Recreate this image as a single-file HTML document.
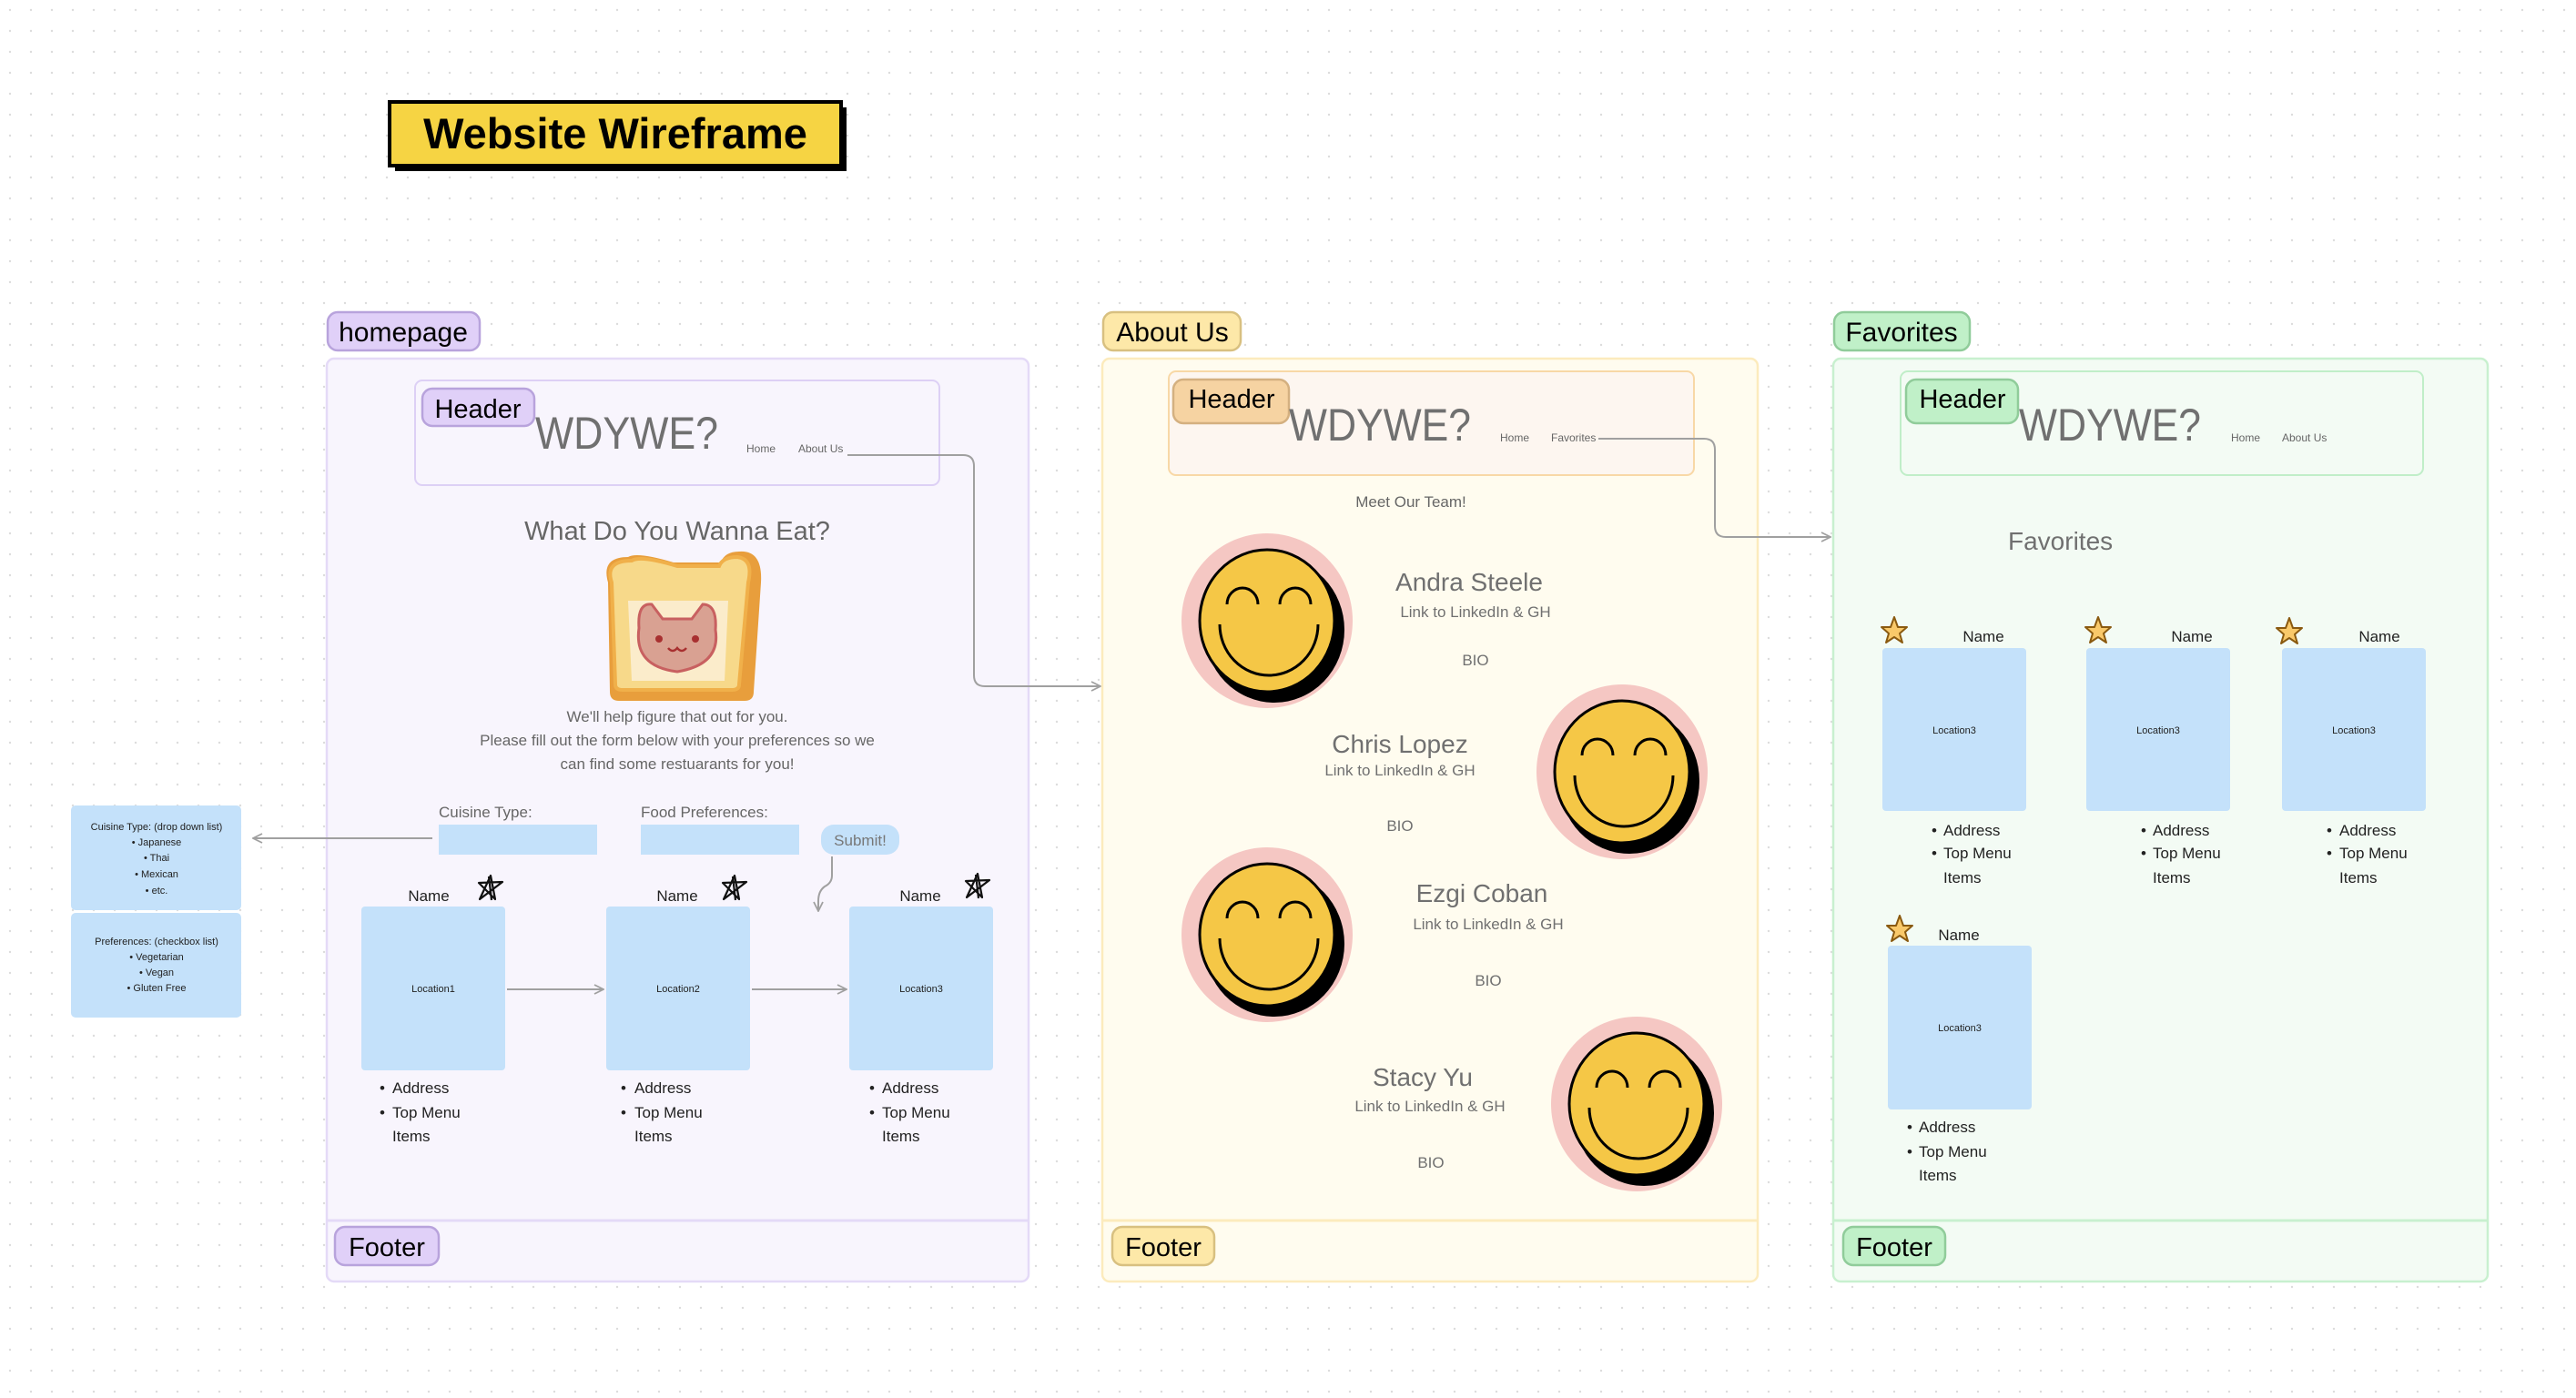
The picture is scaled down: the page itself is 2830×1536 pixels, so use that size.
<!DOCTYPE html>
<html><head><meta charset="utf-8"><style>
html,body{margin:0;padding:0;background:#fff;}
svg{display:block;font-family:"Liberation Sans",sans-serif;}
</style></head><body>
<svg width="2830" height="1536" viewBox="0 0 2830 1536" xmlns="http://www.w3.org/2000/svg">
<defs>
<pattern id="dots" x="0" y="0" width="23" height="23" patternUnits="userSpaceOnUse"><circle cx="11" cy="11" r="1.2" fill="#dcdcdc"/></pattern>
<marker id="ar" viewBox="0 0 12 12" refX="11" refY="6" markerWidth="12" markerHeight="12" markerUnits="userSpaceOnUse" orient="auto"><path d="M1,1 L11,6 L1,11" fill="none" stroke="#a0a0a0" stroke-width="1.8"/></marker>
<g id="smile">
<ellipse cx="0" cy="0" rx="94" ry="96" fill="#f5c7c3"/>
<ellipse cx="8" cy="10" rx="77" ry="80" fill="#000"/>
<ellipse cx="0" cy="0" rx="74" ry="78" fill="#f5c746" stroke="#000" stroke-width="3"/>
<path d="M-44,-18 A17,18 0 0 1 -10,-18" fill="none" stroke="#000" stroke-width="3"/>
<path d="M14,-18 A17,18 0 0 1 48,-18" fill="none" stroke="#000" stroke-width="3"/>
<path d="M-52,4 A54,56 0 0 0 56,4" fill="none" stroke="#000" stroke-width="3"/>
</g>
<g id="ostar"><path d="M0,-14 L4,-3 L14,-3 L6,4 L9,14 L0,8 L-9,14 L-6,4 L-14,-3 L-4,-3 Z" fill="#f9c96a" stroke="#8a5a10" stroke-width="2" stroke-linejoin="round"/></g>
<g id="hstar"><path d="M-12,13 L0,-13 L5,13 L-13,-5 L13,-6 Z M-2,-12 L1,14" fill="none" stroke="#111" stroke-width="2.2" stroke-linejoin="round"/></g>
</defs>
<rect width="2830" height="1536" fill="#fff"/>
<rect width="2830" height="1536" fill="url(#dots)"/>

<!-- Title -->
<rect x="434" y="118" width="496" height="70" fill="#000"/>
<rect x="428" y="112" width="496" height="70" fill="#f6d443" stroke="#000" stroke-width="4"/>
<text x="676" y="163" font-size="47" font-weight="bold" text-anchor="middle" fill="#000">Website Wireframe</text>

<!-- ===== HOMEPAGE ===== -->
<rect x="359" y="394" width="771" height="1014" rx="8" fill="#f8f5fd" stroke="#e4daf7" stroke-width="2.5"/>
<line x1="359" y1="1341" x2="1130" y2="1341" stroke="#e4daf7" stroke-width="3"/>
<rect x="360" y="343" width="167" height="42" rx="11" fill="#e0d0f8" stroke="#b8a3dc" stroke-width="2.5"/>
<text x="443" y="375" font-size="30" text-anchor="middle" fill="#000">homepage</text>
<rect x="456" y="418" width="576" height="115" rx="8" fill="#f8f5fd" stroke="#ddd0f5" stroke-width="2"/>
<rect x="464" y="427" width="123" height="41" rx="11" fill="#e0d0f8" stroke="#b8a3dc" stroke-width="2.5"/>
<text x="525" y="459" font-size="29" text-anchor="middle" fill="#000">Header</text>
<text x="588" y="493" font-size="50" fill="#707070" textLength="201" lengthAdjust="spacingAndGlyphs">WDYWE?</text>
<text x="820" y="497" font-size="12" fill="#666">Home</text>
<text x="877" y="497" font-size="12" fill="#666">About Us</text>
<path d="M931,500 H1058 Q1070,500 1070,512 V742 Q1070,754 1082,754 H1209" fill="none" stroke="#a0a0a0" stroke-width="2" marker-end="url(#ar)"/>
<text x="744" y="593" font-size="29" text-anchor="middle" fill="#666">What Do You Wanna Eat?</text>

<!-- toast cat -->
<g>
<path d="M668,640 Q660,612 690,612 Q700,606 740,618 L792,618 Q796,606 812,606 Q838,604 836,640 L828,760 Q828,770 818,770 L680,770 Q670,770 670,760 Z" fill="#e89e3c"/>
<path d="M672,640 Q664,616 694,616 Q704,610 744,622 L790,622 Q794,612 810,612 Q828,614 822,640 L812,752 Q812,758 804,758 L684,758 Q676,758 676,752 Z" fill="#f7d98a" stroke="#f0b04a" stroke-width="4"/>
<path d="M690,660 L800,660 L796,748 L694,748 Z" fill="#fbeccb"/>
<path d="M702,690 Q700,662 716,664 L728,680 L760,680 L772,664 Q788,664 786,692 Q792,730 744,738 Q696,732 702,690 Z" fill="#d9a192" stroke="#c86060" stroke-width="3"/>
<circle cx="724" cy="702" r="4" fill="#a83030"/><circle cx="764" cy="702" r="4" fill="#a83030"/>
<path d="M734,712 Q739,718 744,712 Q749,718 754,712" fill="none" stroke="#a83030" stroke-width="2.5"/>
</g>
<text x="744" y="793" font-size="17" text-anchor="middle" fill="#666">We'll help figure that out for you.</text>
<text x="744" y="819" font-size="17" text-anchor="middle" fill="#666">Please fill out the form below with your preferences so we</text>
<text x="744" y="845" font-size="17" text-anchor="middle" fill="#666">can find some restuarants for you!</text>

<text x="482" y="898" font-size="17" fill="#666">Cuisine Type:</text>
<text x="704" y="898" font-size="17" fill="#666">Food Preferences:</text>
<rect x="482" y="906" width="174" height="33" fill="#c4e1fa"/>
<rect x="704" y="906" width="174" height="33" fill="#c4e1fa"/>
<rect x="902" y="906" width="86" height="33" rx="14" fill="#c4e1fa"/>
<text x="945" y="929" font-size="17" text-anchor="middle" fill="#777">Submit!</text>
<path d="M914,941 V962 Q914,970 906,974 Q899,979 899,990 V1001" fill="none" stroke="#a0a0a0" stroke-width="2" marker-end="url(#ar)"/>
<path d="M475,921 H278" fill="none" stroke="#a0a0a0" stroke-width="2" marker-end="url(#ar)"/>

<!-- side notes -->
<rect x="78" y="885" width="187" height="115" rx="5" fill="#c4e1fa"/>
<rect x="78" y="1003" width="187" height="115" rx="5" fill="#c4e1fa"/>
<g font-size="11" text-anchor="middle" fill="#222">
<text x="172" y="912">Cuisine Type: (drop down list)</text>
<text x="172" y="929">•  Japanese</text>
<text x="172" y="946">•  Thai</text>
<text x="172" y="964">•  Mexican</text>
<text x="172" y="982">•  etc.</text>
<text x="172" y="1038">Preferences: (checkbox list)</text>
<text x="172" y="1055">•  Vegetarian</text>
<text x="172" y="1072">•  Vegan</text>
<text x="172" y="1089">•  Gluten Free</text>
</g>

<!-- homepage cards -->
<g font-size="17" fill="#222">
<text x="471" y="990" text-anchor="middle">Name</text>
<text x="744" y="990" text-anchor="middle">Name</text>
<text x="1011" y="990" text-anchor="middle">Name</text>
</g>
<use href="#hstar" x="539" y="975"/><use href="#hstar" x="807" y="975"/><use href="#hstar" x="1074" y="973"/>
<rect x="397" y="996" width="158" height="180" rx="4" fill="#c4e1fa"/>
<rect x="666" y="996" width="158" height="180" rx="4" fill="#c4e1fa"/>
<rect x="933" y="996" width="158" height="180" rx="4" fill="#c4e1fa"/>
<g font-size="11" text-anchor="middle" fill="#222">
<text x="476" y="1090">Location1</text><text x="745" y="1090">Location2</text><text x="1012" y="1090">Location3</text>
</g>
<path d="M557,1087 H663" stroke="#a0a0a0" stroke-width="2" marker-end="url(#ar)"/>
<path d="M826,1087 H930" stroke="#a0a0a0" stroke-width="2" marker-end="url(#ar)"/>
<g font-size="17" fill="#222">
<text x="417" y="1201">•</text><text x="431" y="1201">Address</text><text x="417" y="1228">•</text><text x="431" y="1228">Top Menu</text><text x="431" y="1254">Items</text>
<text x="682" y="1201">•</text><text x="697" y="1201">Address</text><text x="682" y="1228">•</text><text x="697" y="1228">Top Menu</text><text x="697" y="1254">Items</text>
<text x="955" y="1201">•</text><text x="969" y="1201">Address</text><text x="955" y="1228">•</text><text x="969" y="1228">Top Menu</text><text x="969" y="1254">Items</text>
</g>
<rect x="368" y="1348" width="114" height="42" rx="11" fill="#e0d0f8" stroke="#b8a3dc" stroke-width="2.5"/>
<text x="425" y="1380" font-size="29" text-anchor="middle" fill="#000">Footer</text>

<!-- ===== ABOUT US ===== -->
<rect x="1211" y="394" width="720" height="1014" rx="8" fill="#fffcef" stroke="#fcebbd" stroke-width="2.5"/>
<line x1="1211" y1="1341" x2="1931" y2="1341" stroke="#fcebbd" stroke-width="3"/>
<rect x="1212" y="343" width="151" height="42" rx="11" fill="#fde8a8" stroke="#d8c080" stroke-width="2.5"/>
<text x="1288" y="375" font-size="30" text-anchor="middle" fill="#000">About Us</text>
<rect x="1284" y="408" width="577" height="114" rx="8" fill="#fdf6f0" stroke="#f8d8a6" stroke-width="2"/>
<rect x="1289" y="417" width="127" height="48" rx="11" fill="#f6d3a2" stroke="#d4b080" stroke-width="2.5"/>
<text x="1353" y="448" font-size="29" text-anchor="middle" fill="#000">Header</text>
<text x="1416" y="484" font-size="50" fill="#707070" textLength="200" lengthAdjust="spacingAndGlyphs">WDYWE?</text>
<text x="1648" y="485" font-size="12" fill="#666">Home</text>
<text x="1704" y="485" font-size="12" fill="#666">Favorites</text>
<path d="M1756,482 H1872 Q1884,482 1884,494 V578 Q1884,590 1896,590 H2011" fill="none" stroke="#a0a0a0" stroke-width="2" marker-end="url(#ar)"/>
<text x="1550" y="557" font-size="17" text-anchor="middle" fill="#666">Meet Our Team!</text>

<use href="#smile" x="1392" y="682"/>
<use href="#smile" x="1782" y="848"/>
<use href="#smile" x="1392" y="1027"/>
<use href="#smile" x="1798" y="1213"/>
<g fill="#707070" text-anchor="middle">
<text x="1614" y="649" font-size="28">Andra Steele</text>
<text x="1621" y="678" font-size="17">Link to LinkedIn &amp; GH</text>
<text x="1621" y="731" font-size="17">BIO</text>
<text x="1538" y="827" font-size="28">Chris Lopez</text>
<text x="1538" y="852" font-size="17">Link to LinkedIn &amp; GH</text>
<text x="1538" y="913" font-size="17">BIO</text>
<text x="1628" y="991" font-size="28">Ezgi Coban</text>
<text x="1635" y="1021" font-size="17">Link to LinkedIn &amp; GH</text>
<text x="1635" y="1083" font-size="17">BIO</text>
<text x="1563" y="1193" font-size="28">Stacy Yu</text>
<text x="1571" y="1221" font-size="17">Link to LinkedIn &amp; GH</text>
<text x="1572" y="1283" font-size="17">BIO</text>
</g>
<rect x="1222" y="1348" width="112" height="42" rx="11" fill="#fde8a8" stroke="#d8c080" stroke-width="2.5"/>
<text x="1278" y="1380" font-size="29" text-anchor="middle" fill="#000">Footer</text>

<!-- ===== FAVORITES ===== -->
<rect x="2014" y="394" width="719" height="1014" rx="8" fill="#f3fbf4" stroke="#c8f0cf" stroke-width="2.5"/>
<line x1="2014" y1="1341" x2="2733" y2="1341" stroke="#c8f0cf" stroke-width="3"/>
<rect x="2015" y="343" width="149" height="42" rx="11" fill="#c0f0c8" stroke="#90cc9a" stroke-width="2.5"/>
<text x="2089" y="375" font-size="30" text-anchor="middle" fill="#000">Favorites</text>
<rect x="2088" y="408" width="574" height="114" rx="8" fill="#f3fbf4" stroke="#c0eec8" stroke-width="2"/>
<rect x="2094" y="417" width="123" height="48" rx="11" fill="#c0f0c8" stroke="#90cc9a" stroke-width="2.5"/>
<text x="2156" y="448" font-size="29" text-anchor="middle" fill="#000">Header</text>
<text x="2218" y="484" font-size="50" fill="#707070" textLength="200" lengthAdjust="spacingAndGlyphs">WDYWE?</text>
<text x="2451" y="485" font-size="12" fill="#666">Home</text>
<text x="2507" y="485" font-size="12" fill="#666">About Us</text>
<text x="2206" y="604" font-size="28" fill="#707070">Favorites</text>

<use href="#ostar" x="2081" y="692"/><use href="#ostar" x="2305" y="692"/><use href="#ostar" x="2515" y="693"/><use href="#ostar" x="2087" y="1020"/>
<g font-size="17" fill="#222" text-anchor="middle">
<text x="2179" y="705">Name</text><text x="2408" y="705">Name</text><text x="2614" y="705">Name</text><text x="2152" y="1033">Name</text>
</g>
<rect x="2068" y="712" width="158" height="179" rx="4" fill="#c4e1fa"/>
<rect x="2292" y="712" width="158" height="179" rx="4" fill="#c4e1fa"/>
<rect x="2507" y="712" width="158" height="179" rx="4" fill="#c4e1fa"/>
<rect x="2074" y="1039" width="158" height="180" rx="4" fill="#c4e1fa"/>
<g font-size="11" text-anchor="middle" fill="#222">
<text x="2147" y="806">Location3</text><text x="2371" y="806">Location3</text><text x="2586" y="806">Location3</text><text x="2153" y="1133">Location3</text>
</g>
<g font-size="17" fill="#222">
<text x="2122" y="918">•</text><text x="2135" y="918">Address</text><text x="2122" y="943">•</text><text x="2135" y="943">Top Menu</text><text x="2135" y="970">Items</text>
<text x="2352" y="918">•</text><text x="2365" y="918">Address</text><text x="2352" y="943">•</text><text x="2365" y="943">Top Menu</text><text x="2365" y="970">Items</text>
<text x="2556" y="918">•</text><text x="2570" y="918">Address</text><text x="2556" y="943">•</text><text x="2570" y="943">Top Menu</text><text x="2570" y="970">Items</text>
<text x="2095" y="1244">•</text><text x="2108" y="1244">Address</text><text x="2095" y="1271">•</text><text x="2108" y="1271">Top Menu</text><text x="2108" y="1297">Items</text>
</g>
<rect x="2025" y="1348" width="112" height="42" rx="11" fill="#c0f0c8" stroke="#90cc9a" stroke-width="2.5"/>
<text x="2081" y="1380" font-size="29" text-anchor="middle" fill="#000">Footer</text>
</svg>
</body></html>
